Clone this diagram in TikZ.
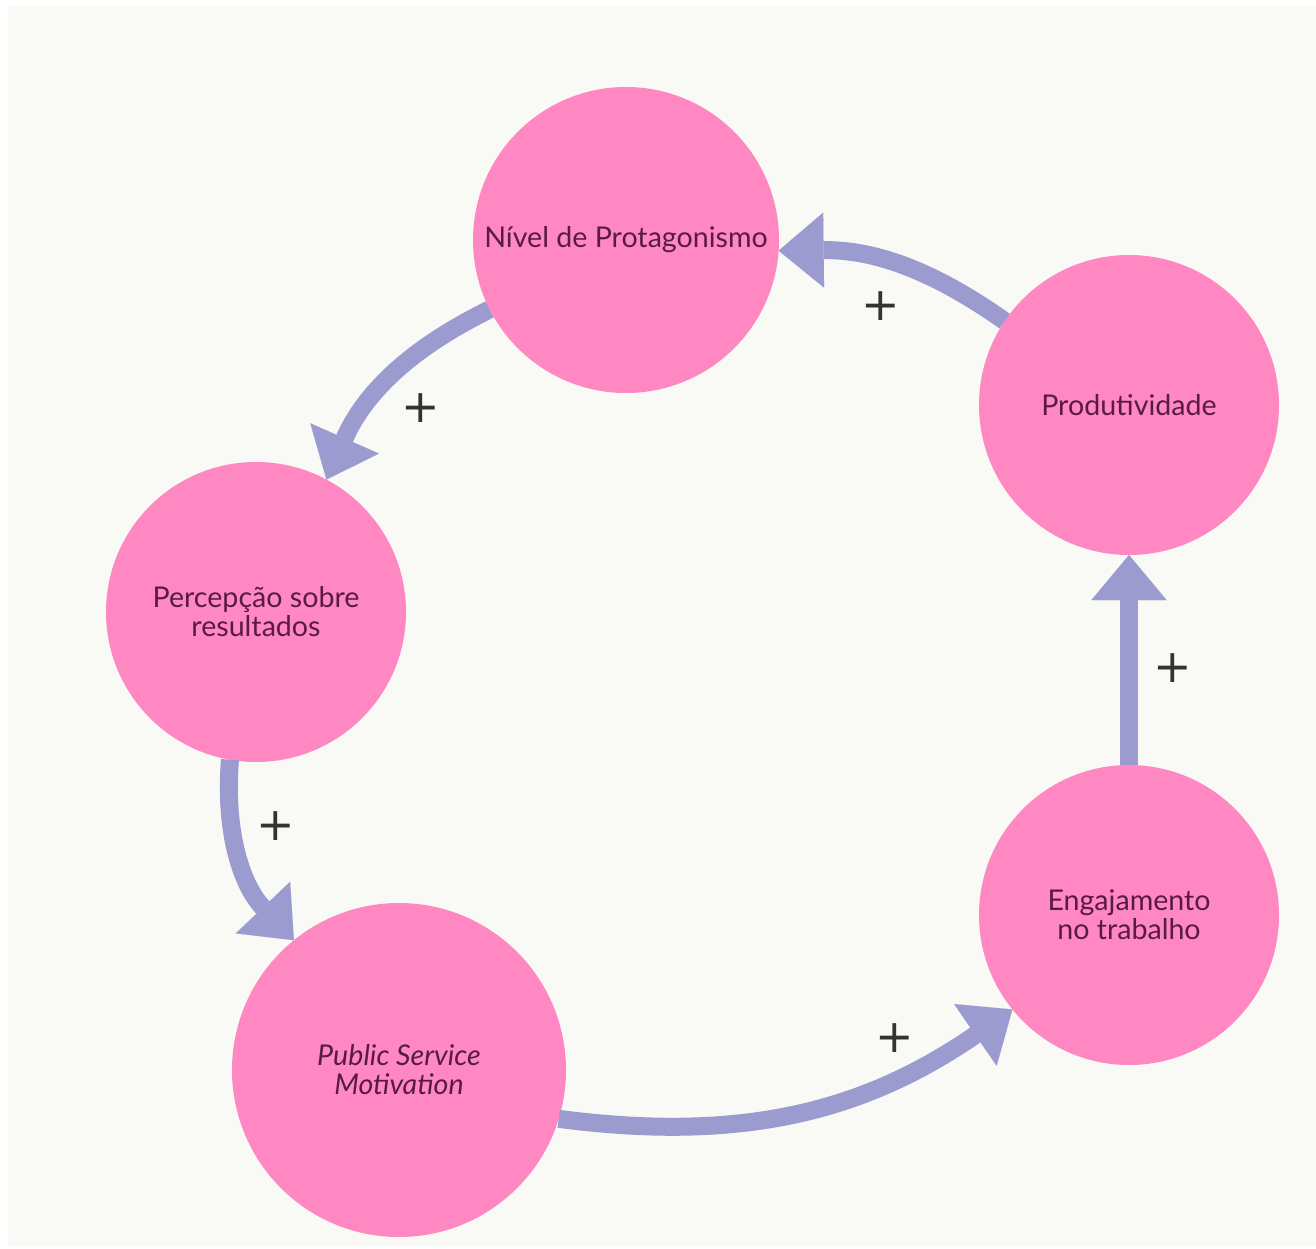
\documentclass[tikz,border=0pt]{standalone}
\usepackage{fontspec}
\setmainfont{Lato}
\newfontfamily\plusfont{DejaVu Sans}
\usetikzlibrary{arrows.meta}
\definecolor{pagebg}{HTML}{F9F9F6}
\definecolor{bubble}{HTML}{FF88C2}
\definecolor{flow}{HTML}{9B9BCF}
\definecolor{labelink}{HTML}{5A1A46}
\definecolor{signink}{HTML}{333333}
\begin{document}
\begin{tikzpicture}[x=0.5pt,y=-0.5pt,
  factor/.style={circle, fill=bubble, inner sep=0pt, outer sep=0pt,
    minimum size=#1, text=labelink, align=center,
    font=\fontsize{14.3}{14.5}\selectfont},
  link/.style={draw=flow, line width=9pt,
    -{Triangle[length=22.5pt,width=37.5pt,line width=0.01pt]}},
  sign/.style={text=signink, font=\plusfont\fontsize{23}{23}\selectfont,
    inner sep=0pt}
]
% page
\fill[white] (0,0) rectangle (1316,1248);
\fill[pagebg] (8,6) rectangle (1316,1246);

% factors of the loop
\node[factor=153pt] (niv)  at (626,240)  {Nível de Protagonismo};
\node[factor=150pt] (prod) at (1129,405) {Produtividade};
\node[factor=150pt] (perc) at (256,612)  {Percepção sobre\\resultados};
\node[factor=167pt] (psm)  at (399,1070) {\itshape Public Service\\\itshape Motivation};
\node[factor=150pt] (eng)  at (1129,915) {Engajamento\\no trabalho};

% reinforcing links
\draw[link] (prod.146) to[bend right=18] (niv.-4);
\draw[link] (niv.207)  to[bend right=20] (perc.62);
\draw[link] (perc.-100) to[bend right=24] (psm.129);
\draw[link] (psm.-17)  to[bend right=21] (eng.219);
\draw[link] (eng.90) -- (prod.-90);

% polarity signs
\node[sign] (s1) at (881,306)  {+};
\node[sign] (s2) at (421,408)  {+};
\node[sign] (s3) at (276,826)  {+};
\node[sign] (s4) at (895,1038) {+};
\node[sign] (s5) at (1173,668) {+};
\end{tikzpicture}
\end{document}
